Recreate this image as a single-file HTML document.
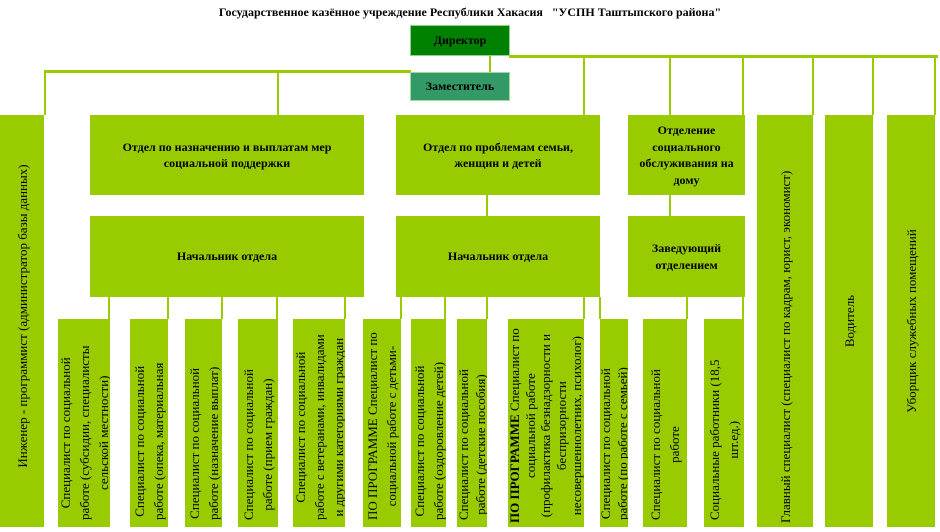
<!DOCTYPE html>
<html><head><meta charset="utf-8">
<style>
*{margin:0;padding:0;box-sizing:border-box}
body{width:940px;height:532px;background:#fff;position:relative;overflow:hidden;font-family:"Liberation Serif","Noto Serif CJK SC",serif;color:#000}
.a{position:absolute}
.g{background:#99cc00}
.l{position:absolute;background:#99cc00}
.t{position:absolute;display:flex;align-items:center;justify-content:center;text-align:center;font-weight:bold;font-size:12px;line-height:16.5px}
.v{position:absolute;background:#99cc00;overflow:hidden}
.r{position:absolute;left:0;top:100%;transform-origin:0 0;transform:rotate(-90deg);display:flex;flex-direction:column;justify-content:center;font-size:13px;line-height:19px;white-space:nowrap}
.r span{display:inline-block;text-align:center}
.s{align-items:flex-start;padding-left:7px}
.c{align-items:center}
</style></head><body>
<div class="a" style="left:0;top:5px;width:940px;text-align:center;font-weight:bold;font-size:12px;white-space:pre">Государственное казённое учреждение Республики Хакасия   "УСПН Таштыпского района"</div>

<div class="l" style="left:509px;top:55px;width:429px;height:3px"></div>
<div class="l" style="left:44px;top:70px;width:367px;height:3px"></div>
<div class="l" style="left:489px;top:55px;width:2px;height:17px"></div>
<div class="l" style="left:44px;top:70px;width:2px;height:45px"></div>
<div class="l" style="left:277px;top:70px;width:2px;height:45px"></div>
<div class="l" style="left:583px;top:55px;width:2px;height:60px"></div>
<div class="l" style="left:669px;top:55px;width:2px;height:60px"></div>
<div class="l" style="left:742px;top:55px;width:2px;height:60px"></div>
<div class="l" style="left:812px;top:55px;width:2px;height:60px"></div>
<div class="l" style="left:872px;top:55px;width:2px;height:60px"></div>
<div class="l" style="left:934px;top:55px;width:2px;height:60px"></div>
<div class="l" style="left:486px;top:195px;width:2px;height:21px"></div>
<div class="l" style="left:669px;top:195px;width:2px;height:21px"></div>
<div class="l" style="left:108px;top:297px;width:2px;height:22px"></div>
<div class="l" style="left:167px;top:297px;width:2px;height:22px"></div>
<div class="l" style="left:221px;top:297px;width:2px;height:22px"></div>
<div class="l" style="left:276px;top:297px;width:2px;height:22px"></div>
<div class="l" style="left:344px;top:297px;width:2px;height:22px"></div>
<div class="l" style="left:400px;top:297px;width:2px;height:22px"></div>
<div class="l" style="left:444px;top:297px;width:2px;height:22px"></div>
<div class="l" style="left:486px;top:297px;width:2px;height:22px"></div>
<div class="l" style="left:583px;top:297px;width:2px;height:22px"></div>
<div class="l" style="left:599px;top:297px;width:2px;height:22px"></div>
<div class="l" style="left:686px;top:297px;width:2px;height:22px"></div>
<div class="l" style="left:742px;top:297px;width:2px;height:22px"></div>

<div class="t" style="left:410px;top:25px;width:100px;height:31px;background:#008000;border:1px solid #8fd18f">Директор</div>
<div class="t" style="left:410px;top:72px;width:100px;height:29px;background:#339966;border:1px solid #99dd99">Заместитель</div>
<div class="t g" style="left:90px;top:115px;width:274px;height:80px">Отдел по назначению и выплатам мер<br>социальной поддержки</div>
<div class="t g" style="left:396px;top:115px;width:204px;height:80px">Отдел по проблемам семьи,<br>женщин и детей</div>
<div class="t g" style="left:628px;top:115px;width:117px;height:80px">Отделение<br>социального<br>обслуживания на<br>дому</div>
<div class="t g" style="left:90px;top:216px;width:274px;height:81px">Начальник отдела</div>
<div class="t g" style="left:396px;top:216px;width:204px;height:81px">Начальник отдела</div>
<div class="t g" style="left:628px;top:216px;width:117px;height:81px">Заведующий<br>отделением</div>

<div class="v" style="left:0;top:115px;width:44px;height:412px"><div class="r c" style="width:412px;height:44px;padding-top:0"><span style="margin-left:10px">Инженер - программист (администратор базы данных)</span></div></div>
<div class="v" style="left:757px;top:115px;width:56px;height:412px"><div class="r s" style="width:412px;height:56px;padding-left:4px"><span>Главный специалист (специалист по кадрам, юрист, экономист)</span></div></div>
<div class="v" style="left:825px;top:115px;width:48px;height:412px"><div class="r c" style="width:412px;height:48px"><span>Водитель</span></div></div>
<div class="v" style="left:887px;top:115px;width:48px;height:412px"><div class="r c" style="width:412px;height:48px"><span>Уборщик служебных помещений</span></div></div>

<div class="v" style="left:58px;top:319px;width:52px;height:208px"><div class="r s" style="width:208px;height:52px"><span>Специалист по социальной<br>работе (субсидии, специалисты<br>сельской местности)</span></div></div>
<div class="v" style="left:130px;top:319px;width:38px;height:208px"><div class="r s" style="width:208px;height:38px"><span>Специалист по социальной<br>работе (опека, материальная</span></div></div>
<div class="v" style="left:185px;top:319px;width:37px;height:208px"><div class="r s" style="width:208px;height:37px"><span>Специалист по социальной<br>работе (назначение выплат)</span></div></div>
<div class="v" style="left:238px;top:319px;width:40px;height:208px"><div class="r s" style="width:208px;height:40px"><span>Специалист по социальной<br>работе (прием граждан)</span></div></div>
<div class="v" style="left:293px;top:319px;width:52px;height:208px"><div class="r s" style="width:208px;height:52px"><span>Специалист по социальной<br>работе с ветеранами, инвалидами<br>и другими категориями граждан</span></div></div>
<div class="v" style="left:363px;top:319px;width:38px;height:208px"><div class="r s" style="width:208px;height:38px"><span>ПО ПРОГРАММЕ Специалист по<br>социальной работе с детьми-</span></div></div>
<div class="v" style="left:411px;top:319px;width:35px;height:208px"><div class="r s" style="width:208px;height:35px"><span>Специалист по социальной<br>работе (оздоровление детей)</span></div></div>
<div class="v" style="left:457px;top:319px;width:30px;height:208px"><div class="r s" style="width:208px;height:30px;line-height:17px"><span>Специалист по социальной<br>работе (детские пособия)</span></div></div>
<div class="v" style="left:508px;top:319px;width:76px;height:208px"><div class="r s" style="width:208px;height:76px;line-height:15.5px;padding-left:4px"><span><b>ПО ПРОГРАММЕ</b> Специалист по<br>социальной работе<br>(профилактика безнадзорности и<br>беспризорности<br>несовершеннолетних, психолог)</span></div></div>
<div class="v" style="left:600px;top:319px;width:28px;height:208px"><div class="r s" style="width:208px;height:28px;line-height:17px"><span>Специалист по социальной<br>работе (по работе с семьей)</span></div></div>
<div class="v" style="left:643px;top:319px;width:44px;height:208px"><div class="r s" style="width:208px;height:44px"><span>Специалист по социальной<br>работе</span></div></div>
<div class="v" style="left:704px;top:319px;width:40px;height:208px"><div class="r s" style="width:208px;height:40px"><span>Социальные работники (18,5<br>шт.ед.)</span></div></div>
</body></html>
